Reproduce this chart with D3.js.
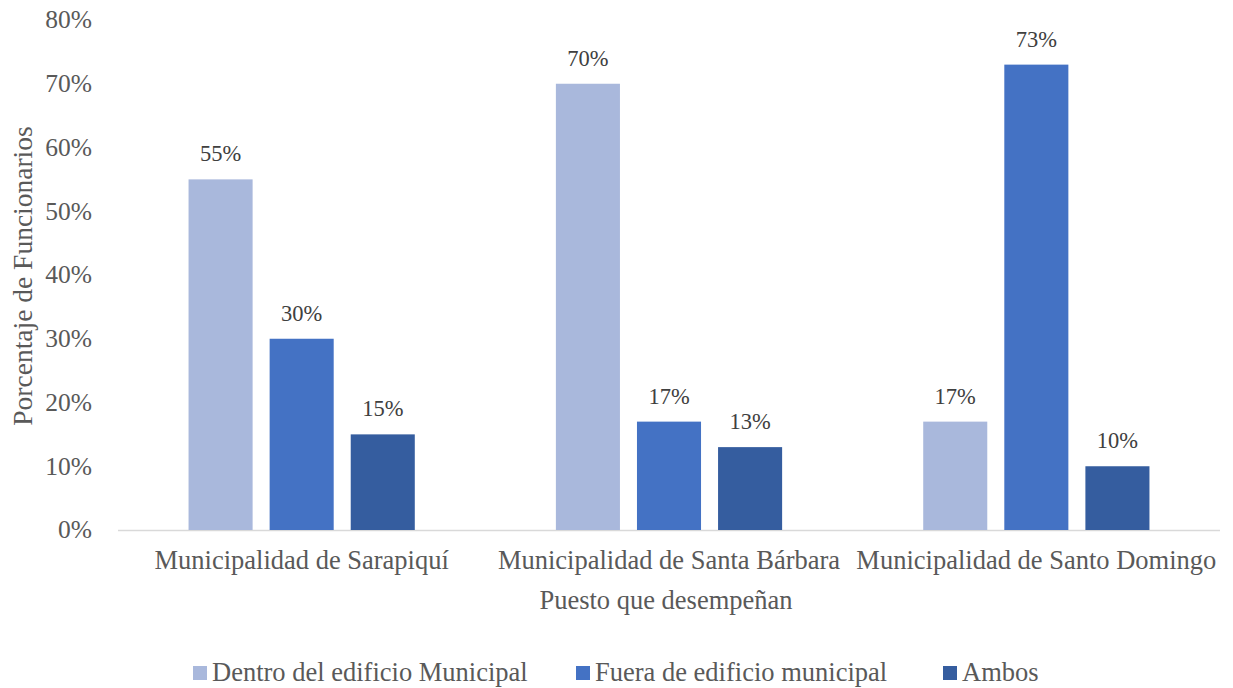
<!DOCTYPE html>
<html><head><meta charset="utf-8">
<script src="https://cdn.jsdelivr.net/npm/d3@7"></script>
<style>body{margin:0;background:#fff}svg{display:block}</style>
</head><body><svg id="c" width="1233" height="688"></svg>
<script>
const categories = ["Municipalidad de Sarapiquí","Municipalidad de Santa Bárbara","Municipalidad de Santo Domingo"];
const seriesNames = ["Dentro del edificio Municipal","Fuera de edificio municipal","Ambos"];
const dentro = [55,70,17];
const fuera = [30,17,73];
const ambos = [15,13,10];
const colors = ["#A9B8DC","#4472C4","#355D9F"];
const yTicks = [0,10,20,30,40,50,60,70,80];

const svg = d3.select("#c");
const FF = "'Liberation Serif', 'Times New Roman', Times, serif";
const L=118,R=1220,T=20,B=530;
const x = d3.scaleBand().domain(categories).range([L,R]).paddingInner(0).paddingOuter(0);
const y = d3.scaleLinear().domain([0,80]).range([B,T]);
const inner = d3.scaleBand().domain(seriesNames).range([0,x.bandwidth()]).paddingInner(0.21).paddingOuter(0.87);

const data = [dentro,fuera,ambos];
function txt(sel){return sel.attr("font-family",FF).attr("fill","#595959");}
// y axis labels
txt(svg.append("g").selectAll("text").data(yTicks).join("text"))
  .attr("x",92).attr("y",d=>y(d)).attr("dy","0.33em").attr("text-anchor","end")
  .attr("font-size",25.5).text(d=>d+"%");
// axis line
svg.append("line").attr("x1",L).attr("x2",R).attr("y1",B+0.5).attr("y2",B+0.5).attr("stroke","#D9D9D9").attr("stroke-width",1.5);
// bars
seriesNames.forEach((s,i)=>{
  const g=svg.append("g");
  g.selectAll("rect").data(categories).join("rect")
    .attr("x",(c)=>x(c)+inner(s)).attr("width",inner.bandwidth())
    .attr("y",(c,j)=>y(data[i][j])).attr("height",(c,j)=>B-y(data[i][j]))
    .attr("fill",colors[i]);
  txt(g.selectAll("text").data(categories).join("text"))
    .attr("x",(c)=>x(c)+inner(s)+inner.bandwidth()/2).attr("y",(c,j)=>y(data[i][j])-18)
    .attr("text-anchor","middle").attr("font-size",22.5).attr("fill","#404040")
    .text((c,j)=>data[i][j]+"%");
});
// category labels
txt(svg.append("g").selectAll("text").data(categories).join("text"))
  .attr("x",c=>x(c)+x.bandwidth()/2).attr("y",569).attr("text-anchor","middle")
  .attr("font-size",26.5).text(c=>c);
// axis titles
txt(svg.append("text")).attr("x",666).attr("y",609).attr("text-anchor","middle").attr("font-size",26.5).text("Puesto que desempeñan");
txt(svg.append("text")).attr("transform","translate(32,276) rotate(-90)").attr("text-anchor","middle").attr("font-size",27.5).text("Porcentaje de Funcionarios");
// legend
const legX=[193,576,943];
const lg=svg.append("g");
seriesNames.forEach((s,i)=>{
  lg.append("rect").attr("x",legX[i]).attr("y",666).attr("width",14).attr("height",14).attr("fill",colors[i]);
  txt(lg.append("text")).attr("x",legX[i]+19).attr("y",681).attr("font-size",26.5).text(s);
});
</script></body></html>
